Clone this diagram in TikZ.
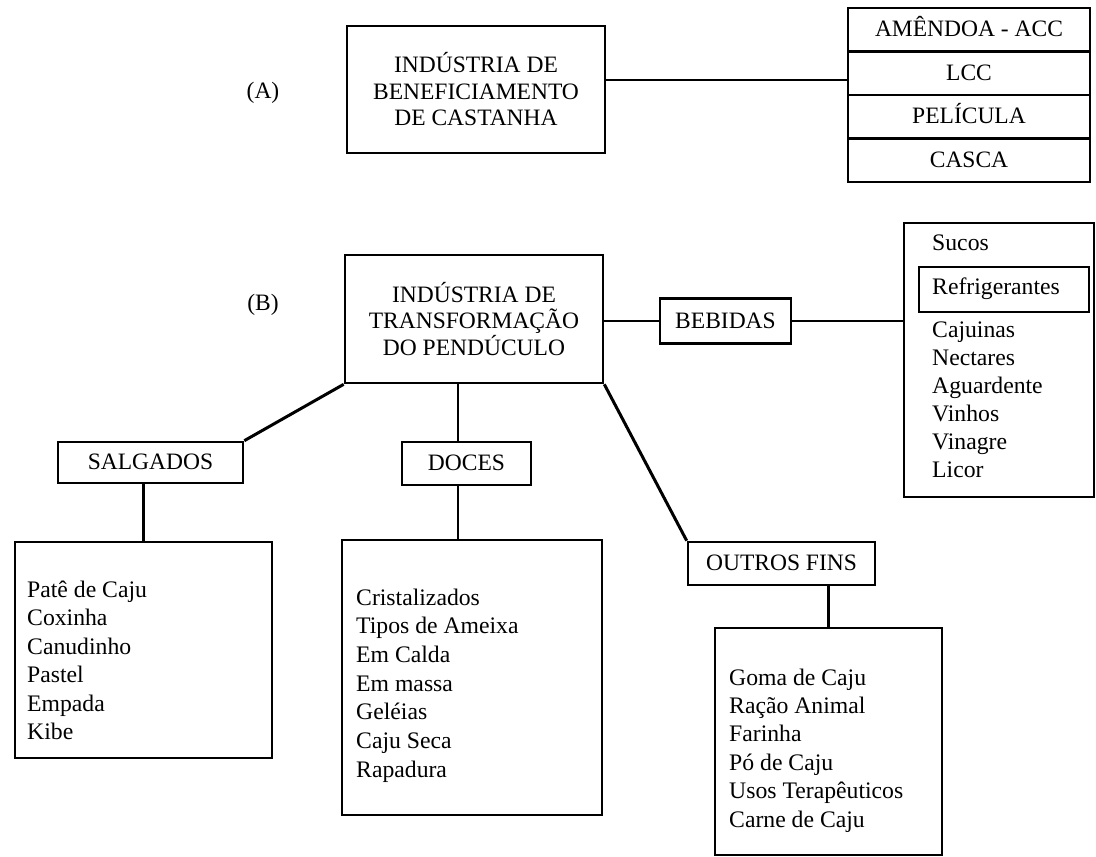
\documentclass[tikz,border=0pt]{standalone}
\usepackage{fontspec}
\setmainfont{Liberation Serif}
\begin{document}
\begin{tikzpicture}[x=1pt,y=-1pt,
  box/.style={draw, line width=2.6pt, inner sep=0pt, align=center},
  caps/.style={font=\fontsize{23.5}{26.5}\selectfont},
  one/.style={text height=16pt, text depth=2pt},
  item/.style={anchor=west, inner sep=0pt, text height=16pt, text depth=6pt,
    font=\fontsize{23.7}{28}\selectfont},
  conn/.style={line width=2.2pt},
  diag/.style={line width=3pt}]
\useasboundingbox (0,0) rectangle (1096,857);
% ---------- (A)
\node[caps, one, inner sep=0pt] (lA) at (263,91) {(A)};
\node[box, caps, minimum width=258, minimum height=127] (boxA) at (476,89.5)
  {INDÚSTRIA DE\\BENEFICIAMENTO\\DE CASTANHA};
\node[box, caps, one, minimum width=242, minimum height=43.5] (r1) at (969,29.75) {AMÊNDOA - ACC};
\node[box, caps, one, minimum width=242, minimum height=43.5] (r2) at (969,73.25) {LCC};
\node[box, caps, one, minimum width=242, minimum height=43.5] (r3) at (969,116.75) {PELÍCULA};
\node[box, caps, one, minimum width=242, minimum height=43.5] (r4) at (969,160.25) {CASCA};
\coordinate (yA) at (0,80);
\draw[conn] (boxA.east |- yA) -- (r2.west |- yA);
% ---------- (B)
\node[caps, one, inner sep=0pt] (lB) at (263,303) {(B)};
\node[box, caps, minimum width=258, minimum height=128] (main) at (474,319)
  {INDÚSTRIA DE\\TRANSFORMAÇÃO\\DO PENDÚCULO};
\node[box, caps, one, minimum width=131, minimum height=45] (beb) at (725.5,321) {BEBIDAS};
\node[box, minimum width=190, minimum height=274] (drinks) at (999,360) {};
\node[item] (suc) at (932,245) {Sucos};
\node[box, minimum width=170, minimum height=45] (refbox) at (1004,289.5) {};
\node[item] (ref) at (932,289) {Refrigerantes};
\foreach \t [count=\i] in {Cajuinas,Nectares,Aguardente,Vinhos,Vinagre,Licor}
  \node[item] (dr\i) at (932,{332+28*(\i-1)}) {\t};
\draw[conn] (main.east |- beb.west) -- (beb.west);
\draw[conn] (beb.east) -- (drinks.west |- beb.east);
% SALGADOS
\node[box, caps, one, minimum width=185, minimum height=41] (salg) at (150.5,462.5) {SALGADOS};
\node[box, minimum width=257, minimum height=216] (sallist) at (143.5,650) {};
\foreach \t [count=\i] in {Patê de Caju,Coxinha,Canudinho,Pastel,Empada,Kibe}
  \node[item] (sa\i) at (27,{592+28.5*(\i-1)}) {\t};
\draw[diag] (main.south west) -- (salg.north east);
\draw[conn] (salg.south -| sallist.north) -- (sallist.north);
% DOCES
\node[box, caps, one, minimum width=129, minimum height=43] (doces) at (466.5,463.5) {DOCES};
\node[box, minimum width=260, minimum height=275] (doclist) at (472,677.5) {};
\foreach \t [count=\i] in {Cristalizados,Tipos de Ameixa,Em Calda,Em massa,Geléias,Caju Seca,Rapadura}
  \node[item] (do\i) at (356,{600+28.7*(\i-1)}) {\t};
\coordinate (xd) at (458,0);
\draw[conn] (main.south -| xd) -- (doces.north -| xd);
\draw[conn] (doces.south -| xd) -- (doclist.north -| xd);
% OUTROS FINS
\node[box, caps, one, minimum width=187, minimum height=43] (outros) at (781.5,563.5) {OUTROS FINS};
\node[box, minimum width=227, minimum height=227] (outlist) at (828.5,741.5) {};
\foreach \t [count=\i] in {Goma de Caju,Ração Animal,Farinha,Pó de Caju,Usos Terapêuticos,Carne de Caju}
  \node[item] (ou\i) at (729,{680+28.4*(\i-1)}) {\t};
\draw[diag] (main.south east) -- (outros.north west);
\draw[conn] (outros.south -| outlist.north) -- (outlist.north);
\end{tikzpicture}
\end{document}
